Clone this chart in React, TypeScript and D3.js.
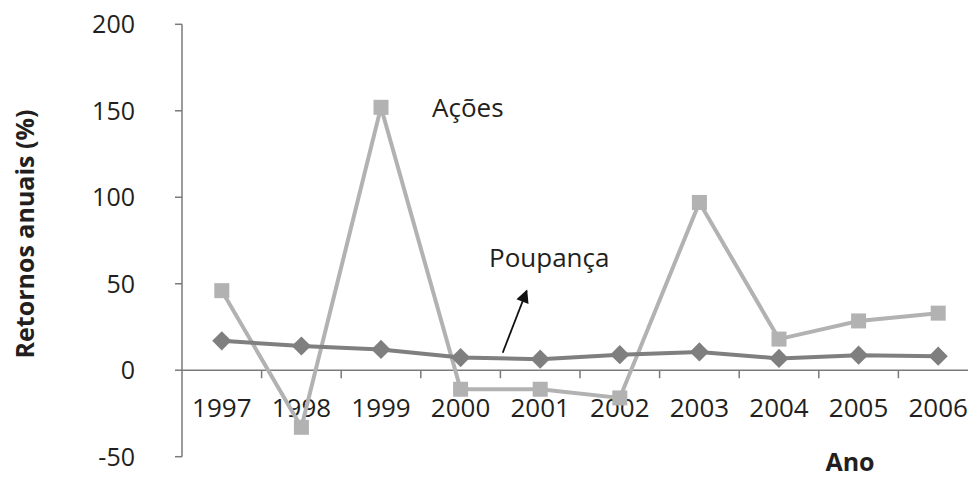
import React from "react";
import * as d3 from "d3";

const years = ["1997", "1998", "1999", "2000", "2001", "2002", "2003", "2004", "2005", "2006"];
const acoes = [46, -33, 152, -11, -11, -16, 97, 18, 28.5, 33];
const poupanca = [17, 14, 12, 7.3, 6.4, 9, 10.6, 6.8, 8.7, 8.1];
const yTicks = [-50, 0, 50, 100, 150, 200];

const W = 968;
const H = 480;
const FONT = "'Open Sans', 'DejaVu Sans', sans-serif";
const TEXT = "#231f20";
const AXIS = "#7a7a7a";
const C_ACOES = "#b2b2b2";
const C_POUP = "#7f7f7f";

export default function App() {
  const x = d3.scaleBand<string>().domain(years).range([182, 182 + 79.6 * 10]).padding(0);
  const y = d3.scaleLinear().domain([-50, 200]).range([456.7, 24.3]);
  const cx = (d: string) => (x(d) as number) + x.bandwidth() / 2;

  const line = d3
    .line<number>()
    .x((_, i) => cx(years[i]))
    .y((v) => y(v));

  const diamond = d3.symbol().type(d3.symbolDiamond2).size(235)();

  return (
    <svg
      width={W}
      height={H}
      style={{ position: "absolute", left: 0, top: 0, background: "#fff" }}
      fontFamily={FONT}
    >
      <defs>
        <marker id="arr" viewBox="0 0 10 10" refX="9" refY="5" markerWidth="15" markerHeight="13" markerUnits="userSpaceOnUse" orient="auto">
          <path d="M0,0 L10,5 L0,10 z" fill="#111" />
        </marker>
      </defs>
      {/* y axis */}
      <line x1={182} x2={182} y1={y(200)} y2={y(-50)} stroke={AXIS} strokeWidth={1.5} />
      {yTicks.map((t) => (
        <g key={t}>
          <line x1={175} x2={182} y1={y(t)} y2={y(t)} stroke={AXIS} strokeWidth={1.5} />
          <text x={135} y={y(t)} dy="0.36em" textAnchor="end" fontSize={25} fill={TEXT}>
            {t}
          </text>
        </g>
      ))}
      {/* x axis */}
      <line x1={182} x2={W} y1={y(0)} y2={y(0)} stroke={AXIS} strokeWidth={1.5} />
      {years.slice(1).map((yr) => (
        <line key={yr} x1={x(yr) as number} x2={x(yr) as number} y1={y(0)} y2={y(0) + 8} stroke={AXIS} strokeWidth={1.5} />
      ))}
      {years.map((yr) => (
        <text key={yr} x={cx(yr)} y={417} textAnchor="middle" fontSize={26} fill={TEXT}>
          {yr}
        </text>
      ))}
      {/* series */}
      <path d={line(acoes) || ""} fill="none" stroke={C_ACOES} strokeWidth={4} />
      {acoes.map((v, i) => (
        <rect key={i} x={cx(years[i]) - 7.5} y={y(v) - 7.5} width={15} height={15} fill={C_ACOES} />
      ))}
      <path d={line(poupanca) || ""} fill="none" stroke={C_POUP} strokeWidth={4} />
      {poupanca.map((v, i) => (
        <path key={i} d={diamond || ""} transform={`translate(${cx(years[i])},${y(v)})`} fill={C_POUP} />
      ))}
      {/* labels */}
      <text x={432} y={116.5} fontSize={26} fill={TEXT}>Ações</text>
      <text x={489} y={266.5} fontSize={26} fill={TEXT}>Poupança</text>
      <line x1={502.7} y1={352.7} x2={526.7} y2={290.7} stroke="#111" strokeWidth={1.8} markerEnd="url(#arr)" />
      <text
        transform={`translate(34,234) rotate(-90)`}
        textAnchor="middle"
        fontSize={25}
        fontWeight="bold"
        fill={TEXT}
      >
        Retornos anuais (%)
      </text>
      <text x={850} y={471} textAnchor="middle" fontSize={25} fontWeight="bold" fill={TEXT}>Ano</text>
    </svg>
  );
}
